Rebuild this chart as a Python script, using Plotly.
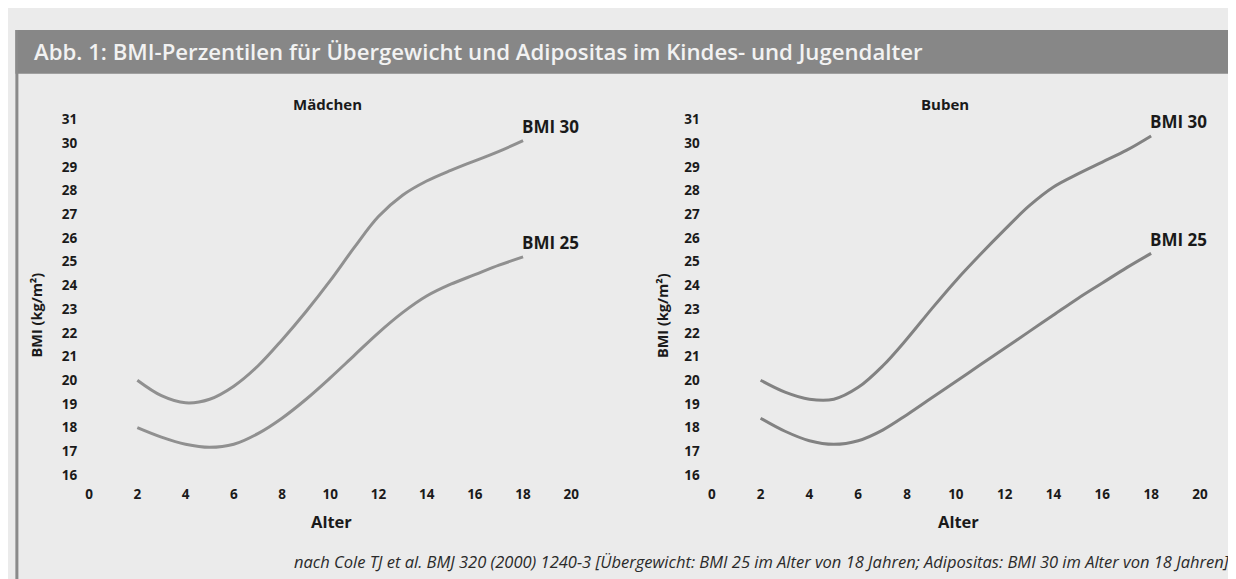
import plotly.graph_objects as go

W, H = 1236, 579
# measured: the page shows the figure shifted by (10.6, 15) and scaled (0.994, 0.975)
SX, OX = 0.994, 10.6
SY, OY = 0.975, 15.0

ages = [2, 3, 4, 5, 6, 7, 8, 9, 10, 11, 12, 13, 14, 15, 16, 17, 18]
girls_bmi25 = [18.0, 17.6, 17.3, 17.17, 17.3, 17.75, 18.4, 19.2, 20.1, 21.05, 22.0, 22.85, 23.55, 24.05, 24.45, 24.85, 25.2]
girls_bmi30 = [20.0, 19.35, 19.05, 19.2, 19.75, 20.6, 21.7, 22.9, 24.2, 25.6, 26.9, 27.8, 28.4, 28.85, 29.25, 29.65, 30.1]
boys_bmi25 = [18.4, 17.85, 17.45, 17.3, 17.45, 17.9, 18.55, 19.25, 19.95, 20.65, 21.35, 22.05, 22.75, 23.45, 24.1, 24.75, 25.35]
boys_bmi30 = [20.0, 19.5, 19.2, 19.2, 19.7, 20.6, 21.75, 23.0, 24.2, 25.3, 26.35, 27.35, 28.15, 28.7, 29.2, 29.7, 30.3]

panel_titles = ["Mädchen", "Buben"]
curve_labels = ["BMI 30", "BMI 25"]
x_ticks = [0, 2, 4, 6, 8, 10, 12, 14, 16, 18, 20]
y_ticks = list(range(16, 32))

title_text = "Abb. 1: BMI-Perzentilen für Übergewicht und Adipositas im Kindes- und Jugendalter"
footnote = ("nach Cole TJ et al. BMJ 320 (2000) 1240-3 [Übergewicht: BMI 25 im Alter von 18 Jahren; "
            "Adipositas: BMI 30 im Alter von 18 Jahren]")


def px(x):
    return ((x - OX) / SX) / W


def py(y):
    return 1 - ((y - OY) / SY) / H


FONT = "Open Sans"
fig = go.Figure()

line_cols = ["#909090", "#828282"]
for i, (xa, ya, s25, s30) in enumerate([("x", "y", girls_bmi25, girls_bmi30),
                                         ("x2", "y2", boys_bmi25, boys_bmi30)]):
    for s in (s30, s25):
        fig.add_trace(go.Scatter(x=ages, y=s, mode="lines", xaxis=xa, yaxis=ya,
                                 line=dict(color=line_cols[i], width=3, shape="spline", smoothing=1.0),
                                 showlegend=False, hoverinfo="skip"))

ydom = [py(476), py(118)]
axis_common = dict(showgrid=False, zeroline=False, showline=False, ticks="",
                   tickfont=dict(family=FONT, size=13.5, color="#1a1a1a", weight=700))
fig.update_layout(
    width=W, height=H,
    margin=dict(l=0, r=0, t=0, b=0),
    paper_bgcolor="#ebebeb",
    plot_bgcolor="rgba(0,0,0,0)",
    xaxis=dict(domain=[px(88), px(572)], range=[0, 20], tickvals=x_ticks,
               ticklabelstandoff=9, anchor="y", **axis_common),
    yaxis=dict(domain=ydom, range=[16, 31], tickvals=y_ticks,
               ticklabelstandoff=11, anchor="x", **axis_common),
    xaxis2=dict(domain=[px(713), px(1203)], range=[0, 20], tickvals=x_ticks,
                ticklabelstandoff=9, anchor="y2", **axis_common),
    yaxis2=dict(domain=ydom, range=[16, 31], tickvals=y_ticks,
                ticklabelstandoff=11, anchor="x2", **axis_common),
)

shapes = [
    dict(type="rect", xref="paper", yref="paper", x0=px(14), x1=1.02, y0=py(72), y1=py(28),
         fillcolor="#878787", line=dict(width=0), layer="below"),
    dict(type="line", xref="paper", yref="paper", x0=px(15.5), x1=px(15.5), y0=-0.02, y1=py(28),
         line=dict(color="#8a8a8a", width=3)),
    dict(type="line", xref="paper", yref="paper", x0=px(1233.5), x1=px(1233.5), y0=-0.02, y1=py(72),
         line=dict(color="#6e6e6e", width=1.5)),
]
fig.update_layout(shapes=shapes)

ann = []
ann.append(dict(text=title_text, xref="paper", yref="paper", x=px(31), y=py(50),
                xanchor="left", yanchor="middle", showarrow=False,
                font=dict(family=FONT, size=22.2, color="#f2f2f2", weight=600)))
for cx, t in zip([327, 947], panel_titles):
    ann.append(dict(text=t, xref="paper", yref="paper", x=px(cx), y=py(103),
                    xanchor="center", yanchor="middle", showarrow=False,
                    font=dict(family=FONT, size=15, color="#1a1a1a", weight=700)))
for cx in [331, 961]:
    ann.append(dict(text="Alter", xref="paper", yref="paper", x=px(cx), y=py(523),
                    xanchor="center", yanchor="middle", showarrow=False,
                    font=dict(family=FONT, size=16.5, color="#1a1a1a", weight=700)))
for cx in [35, 663]:
    ann.append(dict(text="BMI (kg/m²)", xref="paper", yref="paper", x=px(cx), y=py(315),
                    xanchor="center", yanchor="middle", showarrow=False, textangle=-90,
                    font=dict(family=FONT, size=14.5, color="#1a1a1a", weight=700)))
for xa, ya, s25, s30 in [("x", "y", girls_bmi25, girls_bmi30), ("x2", "y2", boys_bmi25, boys_bmi30)]:
    for lab, s in [(curve_labels[0], s30), (curve_labels[1], s25)]:
        ann.append(dict(text=lab, xref=xa, yref=ya, x=ages[-1], y=s[-1],
                        xanchor="left", yanchor="middle", showarrow=False,
                        xshift=-3, yshift=14,
                        font=dict(family=FONT, size=17, color="#1a1a1a", weight=700)))
ann.append(dict(text=footnote, xref="paper", yref="paper", x=px(1235), y=py(563),
                xanchor="right", yanchor="middle", showarrow=False,
                font=dict(family=FONT, size=16.5, color="#2a2a2a", style="italic")))
fig.update_layout(annotations=ann)

fig.write_html("out.html")
